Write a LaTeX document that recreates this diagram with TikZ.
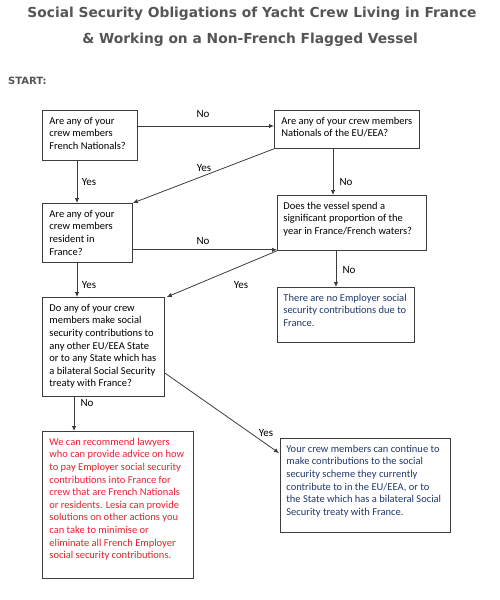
\documentclass[tikz,border=0pt]{standalone}
\usepackage{fontspec}
\setmainfont{Carlito}
\newfontfamily\titlefont{DejaVu Sans}
\usetikzlibrary{calc,arrows.meta}
\definecolor{titlegray}{RGB}{85,85,85}
\definecolor{navytext}{RGB}{32,56,110}
\definecolor{redtext}{RGB}{235,30,45}
\definecolor{linegray}{RGB}{60,60,60}
\newcommand{\boxcontent}[3]{\parbox[c][\dimexpr #2pt-10pt\relax][t]{\dimexpr #1pt-12pt\relax}{\raggedright\strut #3}}
\begin{document}
\begin{tikzpicture}[x=1pt,y=-1pt,
 qbox/.style={draw=linegray, line width=0.8pt, anchor=north west, inner xsep=6pt, inner ysep=5pt, font=\fontsize{10.5}{12.6}\selectfont},
 arr/.style={draw=linegray, line width=0.8pt, -{Latex[length=5pt,width=4.5pt]}},
 lab/.style={font=\fontsize{11}{13}\selectfont, inner sep=0pt},
 titletext/.style={font=\titlefont\bfseries\fontsize{13.8}{16}\selectfont, text=titlegray, inner sep=0pt}]
\useasboundingbox (0,0) rectangle (500,600);
\node[titletext] (t1) at (252,13.5) {Social Security Obligations of Yacht Crew Living in France};
\node[titletext] (t2) at (250,40) {\& Working on a Non-French Flagged Vessel};
\node[titletext, anchor=west, font=\titlefont\bfseries\fontsize{10}{12}\selectfont] (start) at (8,81) {START:};

\node[qbox, inner xsep=7pt] (b1) at (42,110) {\boxcontent{93}{50}{Are any of your\\crew members\\French Nationals?}};
\node[qbox, inner xsep=7pt] (b2) at (274,110) {\boxcontent{143}{38}{Are any of your crew members\\Nationals of the EU/EEA?}};
\node[qbox, inner xsep=7pt] (b3) at (42,203) {\boxcontent{88}{59}{Are any of your\\crew members\\resident in\\France?}};
\node[qbox] (b4) at (277,195) {\boxcontent{149}{55}{Does the vessel spend a\\significant proportion of the\\year in France/French waters?}};
\node[qbox, inner xsep=7pt] (b5) at (42,297) {\boxcontent{120}{99}{Do any of your crew\\members make social\\security contributions to\\any other EU/EEA State\\or to any State which has\\a bilateral Social Security\\treaty with France?}};
\node[qbox, text=navytext] (b6) at (277,287) {\boxcontent{137}{55}{There are no Employer social\\security contributions due to\\France.}};
\node[qbox, text=redtext, inner xsep=7pt] (b7) at (42,431) {\boxcontent{149}{147}{We can recommend lawyers\\who can provide advice on how\\to pay Employer social security\\contributions into France for\\crew that are French Nationals\\or residents. Lesia can provide\\solutions on other actions you\\can take to minimise or\\eliminate all French Employer\\social security contributions.}};
\node[qbox, text=navytext] (b8) at (280,438) {\boxcontent{170}{94}{Your crew members can continue to\\make contributions to the social\\security scheme they currently\\contribute to in the EU/EEA, or to\\the State which has a bilateral Social\\Security treaty with France.}};

\draw[arr] ($(b1.north east)+(0,16)$) -- ($(b2.north west)+(0,16)$);
\draw[arr] (b2.south west) -- (b3.north east);
\draw[arr] ($(b1.south west)+(35,0)$) -- ($(b3.north west)+(35,0)$);
\draw[arr] ($(b2.south west)+(59,0)$) -- ($(b4.north west)+(56,0)$);
\draw[arr] ($(b3.south east)+(0,-13)$) -- ($(b4.south west)+(0,-1)$);
\draw[arr] (b4.south west) -- ($(b5.north east)+(2,0)$);
\draw[arr] ($(b3.south west)+(35,0)$) -- ($(b5.north west)+(35,0)$);
\draw[arr] ($(b4.south west)+(59,0)$) -- ($(b6.north west)+(59,0)$);
\draw[arr] ($(b5.south west)+(32,0)$) -- ($(b7.north west)+(32,0)$);
\draw[arr] ($(b5.north east)+(0,76)$) -- ($(b8.north west)+(-1,15)$);

\node[lab] (l1) at (203,114) {No};
\node[lab] (l2) at (204,168) {Yes};
\node[lab] (l3) at (89,182) {Yes};
\node[lab] (l4) at (346,182) {No};
\node[lab] (l5) at (203,241) {No};
\node[lab] (l6) at (241,285) {Yes};
\node[lab] (l7) at (89,285) {Yes};
\node[lab] (l8) at (349,270) {No};
\node[lab] (l9) at (87,403) {No};
\node[lab] (l10) at (266,433) {Yes};
\end{tikzpicture}
\end{document}
